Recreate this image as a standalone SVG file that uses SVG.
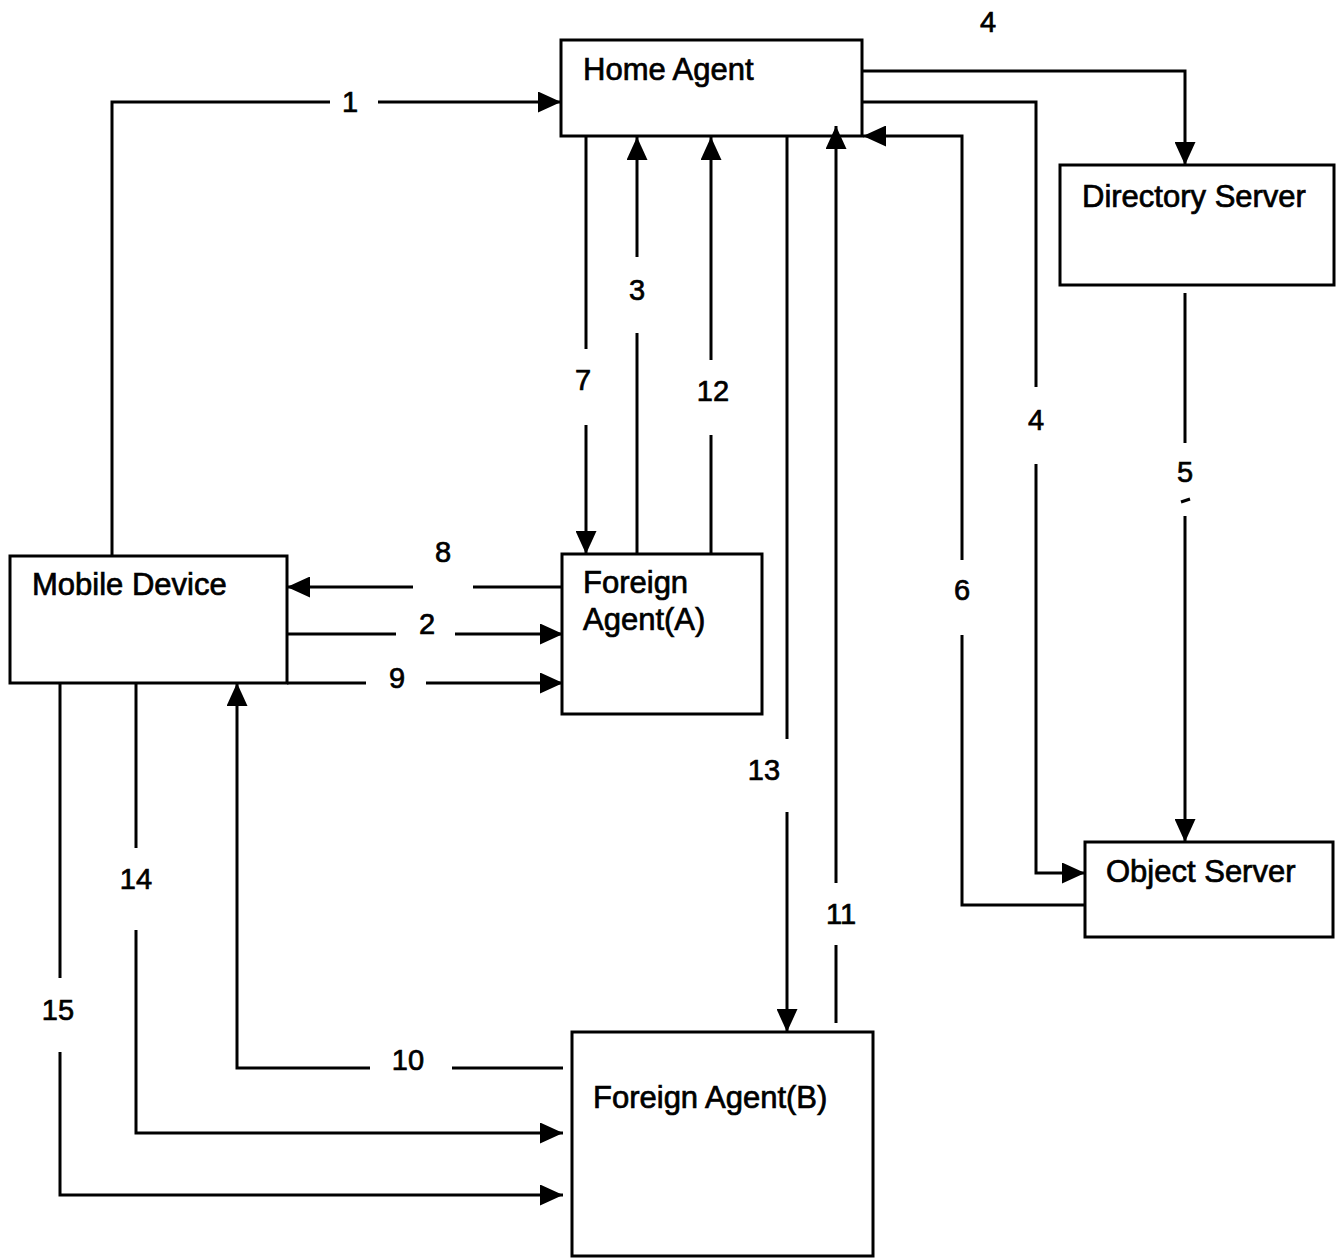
<svg xmlns="http://www.w3.org/2000/svg" width="1341" height="1258" viewBox="0 0 1341 1258">
  <style>
    .box { fill: #fff; stroke: #000; stroke-width: 3; }
    .name { font-family: "Liberation Sans", Arial, sans-serif; font-size: 31px; fill: #000; stroke: #000; stroke-width: 0.7px; }
    .num { font-family: "Liberation Sans", Arial, sans-serif; font-size: 29px; fill: #000; stroke: #000; stroke-width: 0.7px; text-anchor: middle; }
    .wire { fill: none; stroke: #000; stroke-width: 3; }
  </style>
  <defs>
    <marker id="head" markerUnits="userSpaceOnUse" markerWidth="23" markerHeight="21" refX="23" refY="10.5" orient="auto">
      <path d="M0,0 L23,10.5 L0,21 Z" fill="#000"/>
    </marker>
  </defs>
  <rect width="1341" height="1258" fill="#fff"/>

  <g id="home-agent">
    <rect class="box" x="561" y="40" width="301" height="96"/>
    <text class="name" x="583" y="80">Home Agent</text>
  </g>
  <g id="directory-server">
    <rect class="box" x="1060" y="165" width="274" height="120"/>
    <text class="name" x="1082" y="207">Directory Server</text>
  </g>
  <g id="object-server">
    <rect class="box" x="1085" y="842" width="248" height="95"/>
    <text class="name" x="1106" y="882">Object Server</text>
  </g>
  <g id="mobile-device">
    <rect class="box" x="10" y="556" width="277" height="127"/>
    <text class="name" x="32" y="595">Mobile Device</text>
  </g>
  <g id="foreign-agent-a">
    <rect class="box" x="562" y="554" width="200" height="160"/>
    <text class="name" x="583" y="593">Foreign</text>
    <text class="name" x="583" y="630">Agent(A)</text>
  </g>
  <g id="foreign-agent-b">
    <rect class="box" x="572" y="1032" width="301" height="224"/>
    <text class="name" x="593" y="1108">Foreign Agent(B)</text>
  </g>

  <g id="connectors">
    <!-- 1: mobile device to home agent -->
    <path class="wire" d="M112,556 V102 H330"/>
    <path class="wire" d="M378,102 H561" marker-end="url(#head)"/>
    <!-- 4: home agent to directory server -->
    <path class="wire" d="M862,71 H1185 V165" marker-end="url(#head)"/>
    <!-- 4: home agent to object server -->
    <path class="wire" d="M862,102 H1036 V387"/>
    <path class="wire" d="M1036,464 V873 H1085" marker-end="url(#head)"/>
    <!-- 5: directory server to object server -->
    <path class="wire" d="M1185,293 V443"/>
    <path class="wire" d="M1181,502 L1190,499" stroke-width="2.5"/>
    <path class="wire" d="M1185,516 V842" marker-end="url(#head)"/>
    <!-- 6: object server to home agent -->
    <path class="wire" d="M1085,905 H962 V635"/>
    <path class="wire" d="M962,560 V136 H863" marker-end="url(#head)"/>
    <!-- 7: home agent to foreign agent A -->
    <path class="wire" d="M586,136 V349"/>
    <path class="wire" d="M586,425 V554" marker-end="url(#head)"/>
    <!-- 3: foreign agent A to home agent -->
    <path class="wire" d="M637,554 V333"/>
    <path class="wire" d="M637,257 V137" marker-end="url(#head)"/>
    <!-- 12: foreign agent A to home agent -->
    <path class="wire" d="M711,554 V435"/>
    <path class="wire" d="M711,360 V137" marker-end="url(#head)"/>
    <!-- 13: home agent to foreign agent B -->
    <path class="wire" d="M787,136 V739"/>
    <path class="wire" d="M787,812 V1032" marker-end="url(#head)"/>
    <!-- 11: foreign agent B to home agent -->
    <path class="wire" d="M836,1023 V945"/>
    <path class="wire" d="M836,883 V126" marker-end="url(#head)"/>
    <!-- 8: foreign agent A to mobile device -->
    <path class="wire" d="M562,587 H473"/>
    <path class="wire" d="M413,587 H287" marker-end="url(#head)"/>
    <!-- 2: mobile device to foreign agent A -->
    <path class="wire" d="M287,634 H396"/>
    <path class="wire" d="M455,634 H563" marker-end="url(#head)"/>
    <!-- 9: mobile device to foreign agent A -->
    <path class="wire" d="M287,683 H366"/>
    <path class="wire" d="M426,683 H563" marker-end="url(#head)"/>
    <!-- 10: foreign agent B to mobile device -->
    <path class="wire" d="M563,1068 H452"/>
    <path class="wire" d="M370,1068 H237 V683" marker-end="url(#head)"/>
    <!-- 14: mobile device to foreign agent B -->
    <path class="wire" d="M136,683 V848"/>
    <path class="wire" d="M136,930 V1133 H563" marker-end="url(#head)"/>
    <!-- 15: mobile device to foreign agent B -->
    <path class="wire" d="M60,683 V978"/>
    <path class="wire" d="M60,1052 V1195 H563" marker-end="url(#head)"/>

    <text class="num" x="350" y="112">1</text>
    <text class="num" x="988" y="32">4</text>
    <text class="num" x="637" y="300">3</text>
    <text class="num" x="583" y="390">7</text>
    <text class="num" x="713" y="401">12</text>
    <text class="num" x="1036" y="430">4</text>
    <text class="num" x="1185" y="482">5</text>
    <text class="num" x="443" y="562">8</text>
    <text class="num" x="962" y="600">6</text>
    <text class="num" x="427" y="634">2</text>
    <text class="num" x="397" y="688">9</text>
    <text class="num" x="764" y="780">13</text>
    <text class="num" x="136" y="889">14</text>
    <text class="num" x="841" y="924">11</text>
    <text class="num" x="58" y="1020">15</text>
    <text class="num" x="408" y="1070">10</text>
  </g>
</svg>
